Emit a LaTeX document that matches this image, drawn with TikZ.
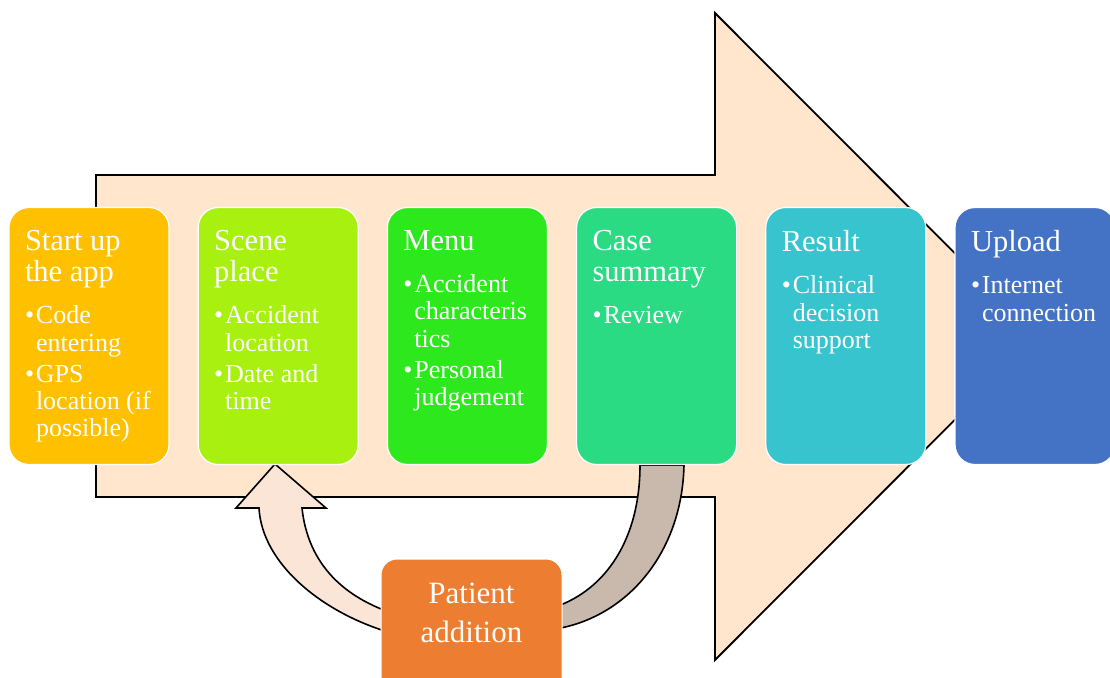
\documentclass[tikz,border=0pt]{standalone}
\usepackage{fontspec}
\setmainfont{Liberation Serif}
\usetikzlibrary{positioning}

\definecolor{bigarrowc}{RGB}{255,230,204}
\definecolor{startc}{RGB}{255,192,0}
\definecolor{scenec}{RGB}{168,240,16}
\definecolor{menuc}{RGB}{46,232,30}
\definecolor{summaryc}{RGB}{42,219,131}
\definecolor{resultc}{RGB}{56,196,207}
\definecolor{uploadc}{RGB}{68,114,196}
\definecolor{patientc}{RGB}{237,125,49}
\definecolor{returnc}{RGB}{251,229,214}
\definecolor{leavec}{RGB}{201,185,172}

% box content: title, then bullet lines
\newcommand{\steptext}[2]{\begin{minipage}[t][257pt][t]{128pt}\raggedright\vspace*{23pt}{\fontsize{30.5}{31}\selectfont #1\par}\vspace{11pt}\fontsize{26}{27.2}\selectfont #2\end{minipage}}
\newcommand{\bul}[1]{\par\vspace{4pt}\hangindent=11pt\hangafter=1\noindent\makebox[11pt][l]{\textbullet}#1\par}

\begin{document}
\begin{tikzpicture}[
            x=1pt, y=-1pt,
            stepbox/.style={rectangle, draw=white, line width=1.2pt, rounded corners=20pt, minimum width=160pt, minimum height=257pt, inner xsep=16pt, inner ysep=0pt, text=white},
            patientbox/.style={rectangle, draw=white, line width=1pt, fill=patientc, rounded corners=16pt, minimum width=181pt, minimum height=142pt, inner sep=0pt, text=white},
            bigarrow/.style={draw=black, line width=1.8pt, fill=bigarrowc},
            blockarrow/.style={draw=black, line width=1.6pt}
            ]

            \useasboundingbox (0,0) rectangle (1110,677);
            \clip (0,0) rectangle (1110,677);

            % Main arrow behind the steps
            \draw[bigarrow] (96,175) -- (715,175) -- (715,13) -- (1038,336.5) -- (715,660) -- (715,497) -- (96,497) -- cycle;

            % Loop arrows
            \draw[blockarrow, fill=leavec] (640,465) -- (684,465) .. controls (682,555) and (625,618) .. (555,629) -- (555,607) .. controls (605,590) and (640,540) .. (640,465) -- cycle;
            \draw[blockarrow, fill=returnc] (395,634) .. controls (325,615) and (262,565) .. (259,508) -- (236,508) -- (275,464) -- (326,508) -- (302,508) .. controls (308,565) and (345,598) .. (395,614) -- cycle;

            % Steps
            \node[stepbox, fill=startc] (start) at (89,336) {\steptext{Start up\newline the app}{\bul{Code\newline entering}\bul{GPS\newline location (if\newline possible)}}};
            \node[stepbox, fill=scenec, right=28pt of start] (scene) {\steptext{Scene\newline place}{\bul{Accident\newline location}\bul{Date and\newline time}}};
            \node[stepbox, fill=menuc, right=28pt of scene] (menu) {\steptext{Menu}{\bul{Accident\newline characteris\newline tics}\bul{Personal\newline judgement}}};
            \node[stepbox, fill=summaryc, right=28pt of menu] (summary) {\steptext{Case\newline summary}{\bul{Review}}};
            \node[stepbox, fill=resultc, right=28pt of summary] (result) {\steptext{Result}{\bul{Clinical\newline decision\newline support}}};
            \node[stepbox, fill=uploadc, right=28pt of result] (upload) {\steptext{Upload}{\bul{Internet\newline connection}}};

            % Loop box
            \node[patientbox] (patient) at (471.5,630) {\begin{minipage}[t][142pt][t]{181pt}\centering\vspace*{24pt}\fontsize{31}{39}\selectfont Patient\\addition\end{minipage}};

        \end{tikzpicture}
\end{document}
